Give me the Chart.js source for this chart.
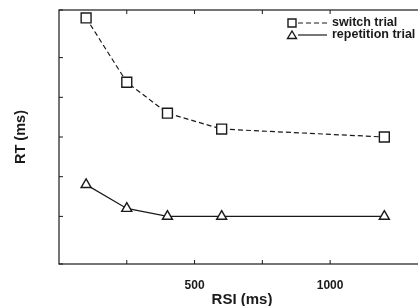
<!DOCTYPE html>
<html>
<head>
<meta charset="utf-8">
<script src="https://cdn.jsdelivr.net/npm/chart.js@4/dist/chart.umd.min.js"></script>
<style>
  html, body { margin: 0; padding: 0; background: #fff; overflow: hidden; }
  #wrap { position: absolute; left: 0; top: 0; width: 450px; height: 312px; }
</style>
</head>
<body>
<div id="wrap"><canvas id="rsiChart"></canvas></div>
<script>
// RT as a function of RSI, switch vs repetition trials
const rsi = [100, 250, 400, 600, 1200];
const switchRT = [1000, 838, 760, 720, 700];
const repetitionRT = [580, 520, 500, 500, 500];
const xLabelled = [500, 1000];
const legendLabels = ['switch trial', 'repetition trial'];

const ink = '#1a1a1a';
const font = 'Liberation Sans, Arial, Helvetica, sans-serif';

// frame with inward ticks, drawn from the scales
const framePlugin = {
    id: 'frame',
    afterDraw(chart) {
        const { ctx, chartArea: a, scales } = chart;
        ctx.save();
        ctx.strokeStyle = ink;
        ctx.lineWidth = 1.2;
        ctx.strokeRect(a.left, a.top, a.right - a.left, a.bottom - a.top);
        ctx.lineWidth = 1;
        ctx.beginPath();
        scales.x.ticks.forEach(t => {
            if (t.value <= scales.x.min) return;
            const px = scales.x.getPixelForValue(t.value);
            ctx.moveTo(px, a.bottom); ctx.lineTo(px, a.bottom - 4);
            ctx.moveTo(px, a.top); ctx.lineTo(px, a.top + 4);
        });
        scales.y.ticks.forEach(t => {
            const py = scales.y.getPixelForValue(t.value);
            ctx.moveTo(a.left, py); ctx.lineTo(a.left + 4, py);
        });
        ctx.stroke();
        ctx.restore();
    }
};

// legend sitting inside the plot, top right
const innerLegend = {
    id: 'innerLegend',
    afterDraw(chart) {
        const { ctx } = chart;
        const x0 = 292, rows = [23, 35];
        ctx.save();
        chart.data.datasets.forEach((ds, i) => {
            const y = rows[i];
            ctx.strokeStyle = ink;
            ctx.lineWidth = 1.2;
            ctx.setLineDash(ds.borderDash || []);
            ctx.beginPath();
            ctx.moveTo(x0 + 6, y); ctx.lineTo(x0 + 35, y);
            ctx.stroke();
            ctx.setLineDash([]);
            ctx.lineWidth = 1.4;
            ctx.fillStyle = '#fff';
            ctx.beginPath();
            if (ds.pointStyle === 'rect') {
                ctx.rect(x0 - 4, y - 4, 8, 8);
            } else {
                ctx.moveTo(x0, y - 4);
                ctx.lineTo(x0 + 4.5, y + 3.5);
                ctx.lineTo(x0 - 4.5, y + 3.5);
                ctx.closePath();
            }
            ctx.fill();
            ctx.stroke();
            ctx.fillStyle = ink;
            ctx.font = 'bold 12.5px ' + font;
            ctx.textBaseline = 'middle';
            ctx.fillText(legendLabels[i], x0 + 40, y);
        });
        ctx.restore();
    }
};

document.addEventListener('DOMContentLoaded', () => {
    const ctx = document.getElementById('rsiChart').getContext('2d');
    new Chart(ctx, {
        type: 'line',
        data: {
            datasets: [
                {
                    label: legendLabels[0],
                    data: rsi.map((x, i) => ({ x: x, y: switchRT[i] })),
                    borderColor: ink,
                    borderWidth: 1.2,
                    borderDash: [5, 3],
                    pointStyle: 'rect',
                    pointRadius: 7,
                    pointBorderWidth: 1.4,
                    pointBackgroundColor: '#fff',
                    pointBorderColor: ink,
                    tension: 0
                },
                {
                    label: legendLabels[1],
                    data: rsi.map((x, i) => ({ x: x, y: repetitionRT[i] })),
                    borderColor: ink,
                    borderWidth: 1.2,
                    pointStyle: 'triangle',
                    pointRadius: 5.8,
                    pointBorderWidth: 1.4,
                    pointBackgroundColor: '#fff',
                    pointBorderColor: ink,
                    tension: 0
                }
            ]
        },
        options: {
            responsive: true,
            maintainAspectRatio: false,
            animation: false,
            layout: { padding: { top: 10, right: 25, left: 0, bottom: 0 } },
            plugins: {
                legend: { display: false },
                tooltip: { enabled: false }
            },
            scales: {
                x: {
                    type: 'linear',
                    min: 0,
                    max: 1350,
                    grid: { display: false },
                    border: { display: false },
                    ticks: {
                        stepSize: 250,
                        padding: 6,
                        color: ink,
                        font: { family: font, size: 12, weight: 'bold' },
                        maxRotation: 0,
                        autoSkip: false,
                        callback: v => xLabelled.includes(v) ? String(v) : ''
                    },
                    title: {
                        display: true,
                        text: 'RSI (ms)',
                        color: ink,
                        font: { family: font, size: 15, weight: 'bold' },
                        padding: { top: 0, bottom: 3 }
                    },
                    afterFit: s => { s.height = 48; }
                },
                y: {
                    min: 380,
                    max: 1020,
                    grid: { display: false },
                    border: { display: false },
                    ticks: { display: false, stepSize: 100 },
                    title: {
                        display: true,
                        text: 'RT (ms)',
                        color: ink,
                        font: { family: font, size: 14.5, weight: 'bold' },
                        padding: { top: 12, bottom: 0 }
                    },
                    afterFit: s => { s.width = 59; }
                }
            }
        },
        plugins: [framePlugin, innerLegend]
    });
});
</script>
</body>
</html>
